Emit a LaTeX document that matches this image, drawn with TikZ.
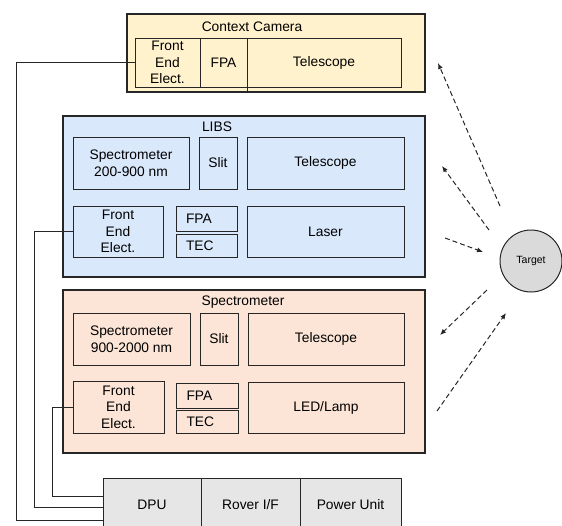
\documentclass[tikz,border=0pt]{standalone}
\usepackage{fontspec}
\setmainfont{Liberation Sans}
\usetikzlibrary{arrows.meta}
\definecolor{camfill}{HTML}{FFF2CC}
\definecolor{libsfill}{HTML}{DAE8FC}
\definecolor{specfill}{HTML}{FCE5D7}
\definecolor{unitfill}{HTML}{E6E6E6}
\definecolor{tgtfill}{HTML}{DADADA}
\definecolor{ink}{HTML}{262626}
\tikzset{
  part/.style={draw=ink, line width=1pt, align=center, inner sep=0pt,
    font=\fontsize{13.8}{16.5}\selectfont},
  smallpart/.style={part, text width=41pt, align=left},
  group/.style={draw=ink, line width=1.2pt, inner sep=0pt},
  grouptitle/.style={font=\fontsize{13.8}{16.5}\selectfont, inner sep=0pt},
  wire/.style={draw=ink, line width=1pt},
  ray/.style={draw=ink, line width=1pt, dash pattern=on 5pt off 3pt,
    -{Latex[length=6pt,width=5pt]}}
}
\begin{document}
\begin{tikzpicture}[x=1pt,y=-1pt]
  \useasboundingbox (0,0) rectangle (562,525);
  % context camera
  \node[group, fill=camfill, minimum width=298, minimum height=78] (cam) at (276,53) {};
  \node[grouptitle] (camtitle) at (252,27) {Context Camera};
  \node[part, minimum width=65, minimum height=49] (camfee) at (167.5,62.5) {Front\\End\\Elect.};
  \node[part, minimum width=47, minimum height=49] (camfpa) at (223.5,62.5) {FPA};
  \node[part, minimum width=154, minimum height=49] (camtel) at (324,62.5) {Telescope};
  \draw[wire] ([yshift=-4pt]camfpa.north east) -- (camfpa.north east |- cam.south);
  % LIBS
  \node[group, fill=libsfill, minimum width=362, minimum height=161] (libs) at (244,196.5) {};
  \node[grouptitle] (libstitle) at (217,127) {LIBS};
  \node[part, minimum width=116, minimum height=52] (libsspec) at (131,163) {Spectrometer\\200-900 nm};
  \node[part, minimum width=38, minimum height=52] (libsslit) at (218,163) {Slit};
  \node[part, minimum width=157, minimum height=52] (libstel) at (325.5,163) {Telescope};
  \node[part, minimum width=90, minimum height=51] (libsfee) at (118,231.5) {Front\\End\\Elect.};
  \node[smallpart, minimum width=61, minimum height=25] (libsfpa) at (206.5,218.5) {FPA};
  \node[smallpart, minimum width=61, minimum height=23] (libstec) at (206.5,245.5) {TEC};
  \node[part, minimum width=157, minimum height=51] (laser) at (325.5,231.5) {Laser};
  % spectrometer
  \node[group, fill=specfill, minimum width=362, minimum height=163] (spec) at (244,371.5) {};
  \node[grouptitle] (spectitle) at (243,302) {Spectrometer};
  \node[part, minimum width=117, minimum height=52] (specspec) at (131.5,339) {Spectrometer\\900-2000 nm};
  \node[part, minimum width=38, minimum height=52] (specslit) at (219,339) {Slit};
  \node[part, minimum width=156, minimum height=52] (spectel) at (326,339) {Telescope};
  \node[part, minimum width=91, minimum height=52] (specfee) at (118.5,407) {Front\\End\\Elect.};
  \node[smallpart, minimum width=62, minimum height=25] (specfpa) at (207,395.5) {FPA};
  \node[smallpart, minimum width=62, minimum height=23] (spectec) at (207,421.5) {TEC};
  \node[part, minimum width=156, minimum height=51] (lamp) at (326,407.5) {LED/Lamp};
  % rover side units
  \node[part, fill=unitfill, minimum width=98, minimum height=54] (dpu) at (152,505) {\raisebox{-7pt}{DPU}};
  \node[part, fill=unitfill, minimum width=99, minimum height=54] (roverif) at (250.5,505) {Rover I/F};
  \node[part, fill=unitfill, minimum width=101, minimum height=54] (power) at (350.5,505) {Power Unit};
  % harness
  \coordinate (bus0) at (16,520);
  \coordinate (bus1) at (34,507);
  \coordinate (bus2) at (52,496);
  \draw[wire] (camfee.west) -| (bus0) -- (bus0 -| dpu.west);
  \draw[wire] (libsfee.west) -| (bus1) -- (bus1 -| dpu.west);
  \draw[wire] (specfee.west) -| (bus2) -- (bus2 -| dpu.west);
  % target and light paths
  \node[draw=ink, line width=1pt, circle, fill=tgtfill, minimum size=62,
    inner sep=0pt, font=\fontsize{10.5}{12}\selectfont] (target) at (531,261) {Target};
  \coordinate (r1a) at (500,206); \coordinate (r1b) at (438,63);
  \coordinate (r2a) at (489,230); \coordinate (r2b) at (442,166);
  \coordinate (r3a) at (445,238); \coordinate (r3b) at (483,252);
  \coordinate (r4a) at (487,290); \coordinate (r4b) at (440,335);
  \coordinate (r5a) at (437,411); \coordinate (r5b) at (506,313);
  \draw[ray] (r1a) -- (r1b);
  \draw[ray] (r2a) -- (r2b);
  \draw[ray] (r3a) -- (r3b);
  \draw[ray] (r4a) -- (r4b);
  \draw[ray] (r5a) -- (r5b);
\end{tikzpicture}
\end{document}
